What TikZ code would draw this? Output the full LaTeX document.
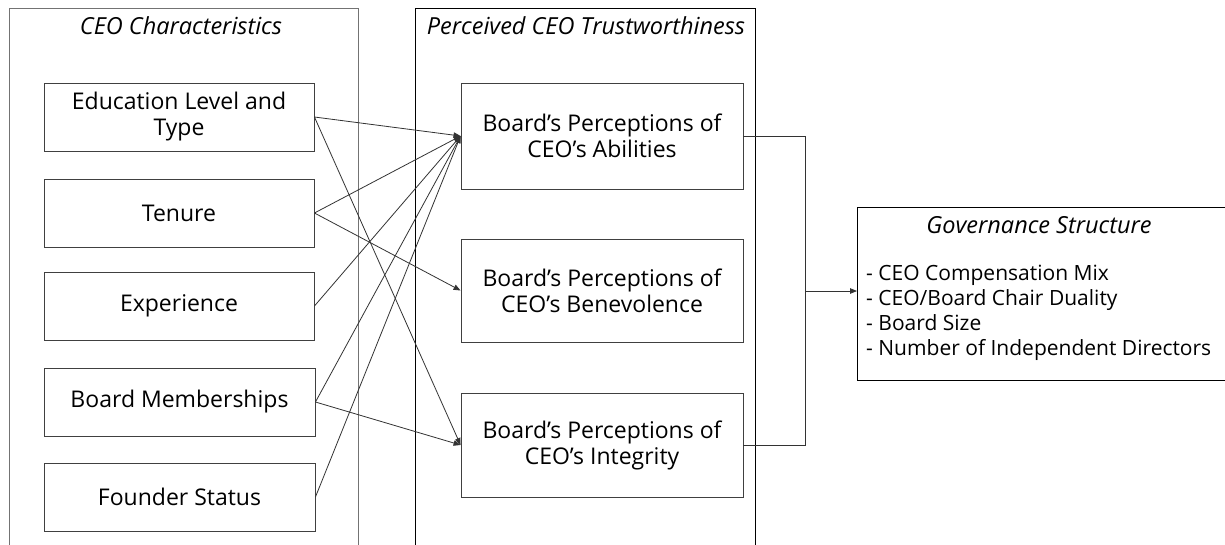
\documentclass[tikz,border=0pt]{standalone}
\usepackage{fontspec}
\setmainfont{Open Sans}
\usetikzlibrary{arrows.meta}
\begin{document}
\begin{tikzpicture}[x=1pt,y=-1pt,
  inbox/.style={draw=black!75,line width=0.9pt,minimum width=#1,align=center,inner sep=0pt,font=\fontsize{23}{26}\selectfont},
  boxh/.style={minimum height=#1},
  titletext/.style={font=\fontsize{23.5}{26}\selectfont\itshape,inner sep=0pt,anchor=base},
  link/.style={draw=black!80,line width=0.8pt},
  arr/.style={link,-{Triangle[length=7pt,width=5.5pt]}}]
\clip (0,0) rectangle (1225,544);
\fill[white] (0,0) rectangle (1225,544);
% outer boxes
\draw[black!55,line width=1pt] (9,560) -- (9,8) -- (358,8) -- (358,560);
\draw[black,line width=1pt] (415,560) -- (415,8) -- (755,8) -- (755,560);
\node[titletext] (tL) at (181,34) {CEO Characteristics};
\node[titletext] (tM) at (586,34) {Perceived CEO Trustworthiness};
% left boxes
\node[inbox=270pt,boxh=68pt] (edu) at (179,117) {Education Level and\\Type};
\node[inbox=270pt,boxh=68pt] (ten) at (179,213) {Tenure};
\node[inbox=270pt,boxh=68pt] (exp) at (179,306) {Experience};
\node[inbox=271pt,boxh=68pt] (brd) at (179.5,402) {Board Memberships};
\node[inbox=271pt,boxh=68pt] (fnd) at (179.5,497) {Founder Status};
% middle boxes
\node[inbox=282pt,boxh=106pt] (abl) at (602,136) {Board’s Perceptions of\\CEO’s Abilities};
\node[inbox=282pt,boxh=103pt] (ben) at (602,290.5) {Board’s Perceptions of\\CEO’s Benevolence};
\node[inbox=282pt,boxh=104pt] (itg) at (602,445) {Board’s Perceptions of\\CEO’s Integrity};
% governance box
\draw[black,line width=0.9pt] (1240,207) -- (857,207) -- (857,380) -- (1240,380);
\coordinate (gw) at (857,291);
\node[titletext] (gt) at (1039,233) {Governance Structure};
\node[anchor=base west,align=left,inner sep=0pt,font=\fontsize{21}{25}\selectfont] (gl) at (866,355)
  {- CEO Compensation Mix\\- CEO/Board Chair Duality\\- Board Size\\- Number of Independent Directors};
% connectors
\draw[arr] (edu.east) -- (abl.west);
\draw[arr] (edu.east) -- (itg.west);
\draw[arr] (ten.east) -- (abl.west);
\draw[arr] (ten.east) -- (ben.west);
\draw[arr] (exp.east) -- (abl.west);
\draw[arr] (brd.east) -- (abl.west);
\draw[arr] (brd.east) -- (itg.west);
\draw[arr] (fnd.east) -- (abl.west);
\coordinate (jx) at (805,291);
\draw[link] (abl.east) -| (jx) |- (itg.east);
\draw[arr] (jx) -- (gw);
\end{tikzpicture}
\end{document}
